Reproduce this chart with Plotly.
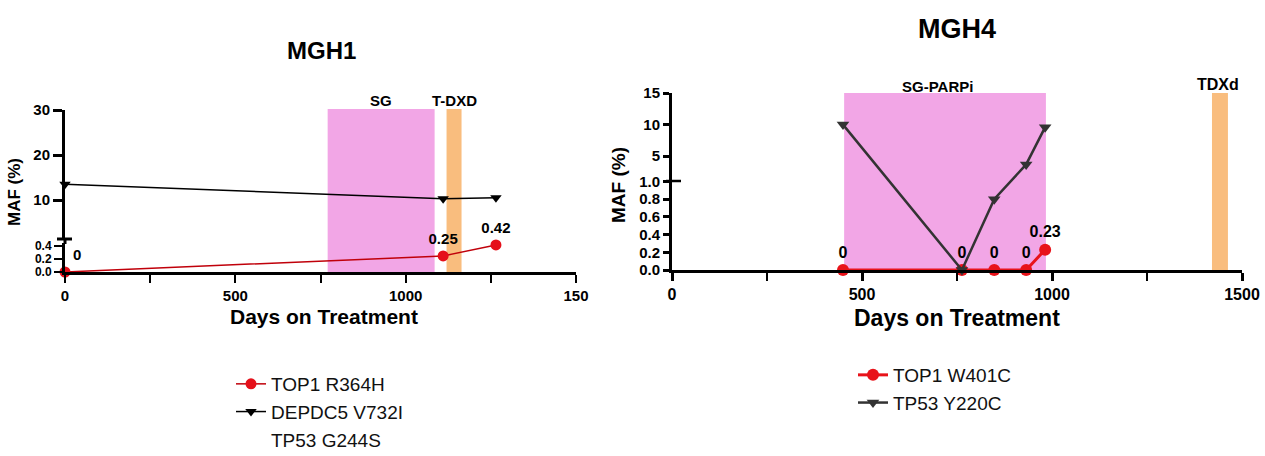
import plotly.graph_objects as go

W, H = 1265, 456
FONT = "Liberation Sans, Arial, sans-serif"

# ---------------- data ----------------
# MGH1
mgh1_days = [0, 1110, 1265]
mgh1_top1 = [0, 0.25, 0.42]
mgh1_top1_labels = ["0", "0.25", "0.42"]
mgh1_depdc5 = [13.5, 10.3, 10.5]
mgh1_sg = [771, 1085]
mgh1_tdxd = [1120, 1164]

# MGH4
mgh4_days = [450, 763, 848, 932, 982]
mgh4_top1 = [0, 0, 0, 0, 0.23]
mgh4_top1_labels = ["0", "0", "0", "0", "0.23"]
mgh4_tp53 = [10, 0, 0.8, 3.7, 9.6]
mgh4_sgparpi = [453, 984]
mgh4_tdxd = [1421, 1463]

x_tickvals = [0, 500, 1000, 1500]
x_minor = [250, 750, 1250]
mgh1_x_ticktext = ["0", "500", "1000", "150"]
mgh4_x_ticktext = ["0", "500", "1000", "1500"]

mgh1_upper_ticks = [10, 20, 30]
mgh1_lower_ticks = [0, 0.2, 0.4]
mgh1_lower_ticktext = ["0.0", "0.2", "0.4"]

mgh4_y_ticks = [0, 0.2, 0.4, 0.6, 0.8, 1.0, 5, 10, 15]
mgh4_y_ticktext = ["0.0", "0.2", "0.4", "0.6", "0.8", "1.0", "5", "10", "15"]


def px(x):
    return x / W


def py(y):
    return 1 - y / H


def seg(v):
    # MGH4 segmented axis: 0-1 linear, 1-15 compressed into the upper half
    return v if v <= 1 else 1 + (v - 1) / 14.0


fig = go.Figure()

# ---------------- MGH1 traces ----------------
fig.add_trace(go.Scatter(
    x=mgh1_days, y=mgh1_top1, xaxis="x", yaxis="y2",
    mode="lines+markers+text", name="TOP1 R364H",
    text=mgh1_top1_labels, textposition=["top right", "top center", "top center"],
    textfont=dict(family=FONT, size=15, color="black", weight="bold"),
    marker=dict(symbol="circle", size=11, color="#E5101A"),
    line=dict(color="#C0000A", width=1.5),
    cliponaxis=False, legend="legend", legendgroup="a",
))
fig.add_trace(go.Scatter(
    x=mgh1_days, y=mgh1_depdc5, xaxis="x", yaxis="y",
    mode="lines+markers", name="DEPDC5 V732I",
    marker=dict(symbol="triangle-down", size=10, color="black"),
    line=dict(color="black", width=1.5),
    cliponaxis=False, legend="legend", legendgroup="b",
))
fig.add_trace(go.Scatter(
    x=[None], y=[None], xaxis="x", yaxis="y",
    mode="lines", name="TP53 G244S",
    line=dict(color="rgba(0,0,0,0)", width=1),
    legend="legend", legendgroup="c",
))

# ---------------- MGH4 traces ----------------
fig.add_trace(go.Scatter(
    x=mgh4_days, y=[seg(v) for v in mgh4_top1], xaxis="x2", yaxis="y3",
    mode="lines+markers+text", name="TOP1 W401C",
    text=mgh4_top1_labels, textposition="top center",
    textfont=dict(family=FONT, size=16, color="black", weight="bold"),
    marker=dict(symbol="circle", size=12, color="#E8131A"),
    line=dict(color="#E8131A", width=3),
    cliponaxis=False, legend="legend2", legendgroup="d",
))
fig.add_trace(go.Scatter(
    x=mgh4_days, y=[seg(v) for v in mgh4_tp53], xaxis="x2", yaxis="y3",
    mode="lines+markers", name="TP53 Y220C",
    marker=dict(symbol="triangle-down", size=11, color="#333333"),
    line=dict(color="#333333", width=2.5),
    cliponaxis=False, legend="legend2", legendgroup="e",
))

# ---------------- treatment shading ----------------
PINK = "#F2A6E6"
ORANGE = "#F9BD7E"
shapes = [
    dict(type="rect", xref="x", yref="paper", x0=mgh1_sg[0], x1=mgh1_sg[1],
         y0=py(272), y1=py(109), fillcolor=PINK, line=dict(width=0), layer="below"),
    dict(type="rect", xref="x", yref="paper", x0=mgh1_tdxd[0], x1=mgh1_tdxd[1],
         y0=py(272), y1=py(109), fillcolor=ORANGE, line=dict(width=0), layer="below"),
    dict(type="rect", xref="x2", yref="paper", x0=mgh4_sgparpi[0], x1=mgh4_sgparpi[1],
         y0=py(270), y1=py(93), fillcolor=PINK, line=dict(width=0), layer="below"),
    dict(type="rect", xref="x2", yref="paper", x0=mgh4_tdxd[0], x1=mgh4_tdxd[1],
         y0=py(270), y1=py(93), fillcolor=ORANGE, line=dict(width=0), layer="below"),
    # axis break marks
    dict(type="line", xref="paper", yref="paper", x0=px(65), x1=px(65),
         y0=py(244), y1=py(239), line=dict(color="black", width=3)),
    dict(type="line", xref="paper", yref="paper", x0=px(57), x1=px(72),
         y0=py(239), y1=py(239), line=dict(color="black", width=3)),
    dict(type="line", xref="paper", yref="paper", x0=px(666), x1=px(681),
         y0=py(181), y1=py(181), line=dict(color="black", width=2.5)),
]

# ---------------- text annotations ----------------
def ann(text, x, y, size, xref="paper", angle=0):
    return dict(text=text, x=x, y=y, xref=xref, yref="paper", showarrow=False,
                textangle=angle, xanchor="center", yanchor="middle",
                font=dict(family=FONT, size=size, color="black", weight="bold"))

annotations = [
    ann("MGH1", px(322), py(50), 24),
    ann("MGH4", px(957), py(29), 27),
    ann("MAF (%)", px(14), py(192), 17, angle=-90),
    ann("MAF (%)", px(618), py(185), 19, angle=-90),
    ann("Days on Treatment", px(324), py(316), 21),
    ann("Days on Treatment", px(957), py(318), 23),
    ann("SG", sum(mgh1_sg) / 2, py(101), 15, xref="x"),
    ann("T-DXD", sum(mgh1_tdxd) / 2, py(101), 15, xref="x"),
    ann("SG-PARPi", sum(mgh4_sgparpi) / 2 - 20, py(86), 15, xref="x2"),
    ann("TDXd", sum(mgh4_tdxd) / 2 - 6, py(84), 16, xref="x2"),
]

axis_common = dict(showgrid=False, zeroline=False, showline=True, linecolor="black",
                   ticks="outside", tickcolor="black", fixedrange=True, automargin=False)
tickfont = dict(family=FONT, size=15, color="black", weight="bold")

fig.update_layout(
    width=W, height=H,
    margin=dict(l=0, r=0, t=0, b=0, autoexpand=False),
    paper_bgcolor="white", plot_bgcolor="white",
    font=dict(family=FONT, color="black"),
    shapes=shapes, annotations=annotations,
    xaxis=dict(domain=[px(65), px(576)], range=[0, 1500], anchor="y2",
               tickvals=x_tickvals, ticktext=mgh1_x_ticktext, linewidth=3,
               ticklen=8, tickwidth=2, tickfont=tickfont,
               minor=dict(tickvals=x_minor, ticks="outside", ticklen=8, tickwidth=2,
                          tickcolor="black"),
               **axis_common),
    yaxis=dict(domain=[py(240), py(110)], range=[1.11, 30], anchor="x",
               tickvals=mgh1_upper_ticks, linewidth=3, ticklen=9, tickwidth=3,
               tickfont=tickfont, **axis_common),
    yaxis2=dict(domain=[py(272), py(243)], range=[0, 0.45], anchor="x",
                tickvals=mgh1_lower_ticks, ticktext=mgh1_lower_ticktext, linewidth=3,
                ticklen=8, tickwidth=1.5,
                tickfont=dict(family=FONT, size=12, color="black", weight="bold"),
                **axis_common),
    xaxis2=dict(domain=[px(672), px(1242)], range=[0, 1500], anchor="y3",
                tickvals=x_tickvals, ticktext=mgh4_x_ticktext, linewidth=3,
                ticklen=8, tickwidth=2.5, tickfont=dict(family=FONT, size=16, color="black", weight="bold"),
                minor=dict(tickvals=x_minor, ticks="outside", ticklen=8, tickwidth=2,
                           tickcolor="black"),
                **axis_common),
    yaxis3=dict(domain=[py(270), py(93)], range=[0, 2], anchor="x2",
                tickvals=[seg(v) for v in mgh4_y_ticks], ticktext=mgh4_y_ticktext,
                linewidth=3, ticklen=6, tickwidth=2.5,
                tickfont=dict(family=FONT, size=15, color="black", weight="bold"),
                **axis_common),
    legend=dict(x=px(231), y=py(365), xref="container", yref="container",
                xanchor="left", yanchor="top",
                bgcolor="rgba(0,0,0,0)", itemwidth=30, traceorder="grouped",
                tracegroupgap=0,
                font=dict(family=FONT, size=19, color="#111111")),
    legend2=dict(x=px(853), y=py(356), xref="container", yref="container",
                 xanchor="left", yanchor="top",
                 bgcolor="rgba(0,0,0,0)", itemwidth=30, traceorder="grouped",
                 tracegroupgap=0,
                 font=dict(family=FONT, size=19, color="#111111")),
    showlegend=True,
)

fig.write_html("out.html", config={"displayModeBar": False},
               post_script="document.body.style.margin='0';document.body.style.overflow='hidden';")
